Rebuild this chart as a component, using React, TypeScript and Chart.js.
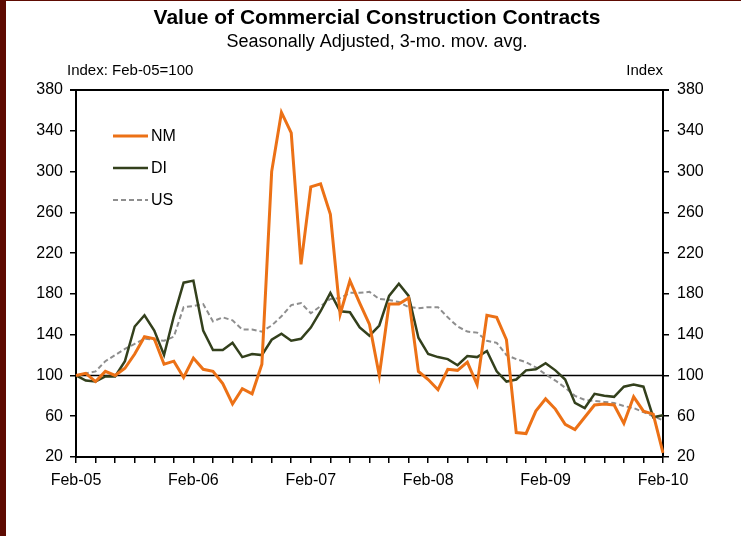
import React, { useEffect, useRef } from "react";
import { Chart, registerables } from "chart.js";

Chart.register(...registerables);

const categories = [
  "Feb-05","Mar-05","Apr-05","May-05","Jun-05","Jul-05","Aug-05","Sep-05","Oct-05","Nov-05","Dec-05","Jan-06",
  "Feb-06","Mar-06","Apr-06","May-06","Jun-06","Jul-06","Aug-06","Sep-06","Oct-06","Nov-06","Dec-06","Jan-07",
  "Feb-07","Mar-07","Apr-07","May-07","Jun-07","Jul-07","Aug-07","Sep-07","Oct-07","Nov-07","Dec-07","Jan-08",
  "Feb-08","Mar-08","Apr-08","May-08","Jun-08","Jul-08","Aug-08","Sep-08","Oct-08","Nov-08","Dec-08","Jan-09",
  "Feb-09","Mar-09","Apr-09","May-09","Jun-09","Jul-09","Aug-09","Sep-09","Oct-09","Nov-09","Dec-09","Jan-10",
  "Feb-10",
];

const nmValues = [
  100, 102, 94, 104, 100, 107, 121, 138, 136, 111, 114, 98,
  117, 106, 104, 92, 72, 87, 82, 111, 300, 358, 338, 209,
  285, 288, 258, 160, 193, 171, 150, 100, 170, 170, 176, 104,
  96, 86, 106, 105, 113, 91, 159, 157, 135, 44, 43, 65,
  77, 67, 52, 47, 59, 71, 72, 71, 53, 79, 65, 62,
  24,
];

const diValues = [
  100, 95, 94, 99, 99, 114, 148, 159, 144, 120, 158, 191,
  193, 144, 125, 125, 132, 118, 121, 120, 135, 141, 134, 136,
  147, 163, 181, 163, 162, 147, 139, 149, 178, 190, 178, 137,
  121, 118, 116, 110, 119, 118, 124, 104, 94, 96, 105, 106,
  112, 105, 96, 73, 68, 82, 80, 79, 89, 91, 89, 59,
  61,
];

const usValues = [
  100, 102, 104, 114, 120, 126, 131, 136, 135, 134, 138, 167,
  168, 170, 153, 157, 154, 145, 145, 143, 149, 158, 169, 171,
  161, 168, 175, 176, 181, 181, 182, 175, 174, 172, 167, 166,
  167, 167, 157, 148, 143, 142, 134, 132, 120, 116, 113, 108,
  101, 95, 88, 80, 76, 75, 74, 73, 70, 68, 64, 60,
  56,
];

const xTickLabels = ["Feb-05", "Feb-06", "Feb-07", "Feb-08", "Feb-09", "Feb-10"];
const yMin = 20;
const yMax = 380;
const yStep = 40;
const baseline = 100;

const seriesNames = ["NM", "DI", "US"];
const COLORS = { NM: "#EC7116", DI: "#33401C", US: "#8E8E8E" };
const FONT = "'Liberation Sans', Arial, Helvetica, sans-serif";

const decorPlugin = {
  id: "decor",
  beforeDraw(chart: any) {
    const ctx = chart.ctx;
    ctx.save();
    ctx.fillStyle = "#ffffff";
    ctx.fillRect(0, 0, chart.width, chart.height);
    ctx.fillStyle = "#5E0B02";
    ctx.fillRect(0, 0, 6, chart.height);
    ctx.fillRect(0, 0, chart.width, 1);
    ctx.restore();
  },
  beforeDatasetsDraw(chart: any) {
    const ctx = chart.ctx;
    const { left, right } = chart.chartArea;
    const y = chart.scales.y.getPixelForValue(baseline);
    ctx.save();
    ctx.strokeStyle = "#000";
    ctx.lineWidth = 1.5;
    ctx.beginPath();
    ctx.moveTo(left, y);
    ctx.lineTo(right, y);
    ctx.stroke();
    ctx.restore();
  },
  afterDraw(chart: any) {
    const ctx = chart.ctx;
    const { left, right, top } = chart.chartArea;
    ctx.save();
    ctx.strokeStyle = "#000";
    ctx.lineWidth = 2;
    ctx.beginPath();
    ctx.moveTo(left - 6, top);
    ctx.lineTo(right + 6, top);
    ctx.stroke();

    ctx.fillStyle = "#000";
    ctx.textAlign = "center";
    ctx.textBaseline = "middle";
    ctx.font = `bold 21px ${FONT}`;
    ctx.fillText("Value of Commercial Construction Contracts", 377, 18);
    ctx.font = `18px ${FONT}`;
    ctx.fillText("Seasonally Adjusted, 3-mo. mov. avg.", 377, 42);
    ctx.font = `15px ${FONT}`;
    ctx.textAlign = "left";
    ctx.fillText("Index: Feb-05=100", 67, 71);
    ctx.textAlign = "right";
    ctx.fillText("Index", 663, 71);

    const legendY = [136, 168, 200];
    const colors = [COLORS.NM, COLORS.DI, COLORS.US];
    const widths = [3, 2.5, 2];
    ctx.font = `16px ${FONT}`;
    ctx.textAlign = "left";
    seriesNames.forEach((name, i) => {
      ctx.strokeStyle = colors[i];
      ctx.lineWidth = widths[i];
      ctx.setLineDash(i === 2 ? [5, 3] : []);
      ctx.beginPath();
      ctx.moveTo(113, legendY[i]);
      ctx.lineTo(148, legendY[i]);
      ctx.stroke();
      ctx.setLineDash([]);
      ctx.fillStyle = "#000";
      ctx.fillText(name, 151, legendY[i] + 1);
    });
    ctx.restore();
  },
};

export default function App() {
  const canvasRef = useRef<HTMLCanvasElement | null>(null);

  useEffect(() => {
    if (!canvasRef.current) return;
    const yAxisCommon = {
      min: yMin,
      max: yMax,
      grid: {
        display: true,
        drawOnChartArea: false,
        drawTicks: true,
        tickLength: 6,
        color: "#000",
        lineWidth: 1.5,
      },
      border: { display: true, color: "#000", width: 2 },
      ticks: {
        stepSize: yStep,
        color: "#000",
        font: { size: 16, family: FONT },
      },
    };
    const chart = new Chart(canvasRef.current, {
      type: "line",
      data: {
        labels: categories,
        datasets: [
          {
            label: seriesNames[0],
            data: nmValues,
            borderColor: COLORS.NM,
            borderWidth: 3,
            pointRadius: 0,
            tension: 0,
            fill: false,
          },
          {
            label: seriesNames[1],
            data: diValues,
            borderColor: COLORS.DI,
            borderWidth: 2.5,
            pointRadius: 0,
            tension: 0,
            fill: false,
          },
          {
            label: seriesNames[2],
            data: usValues,
            borderColor: COLORS.US,
            borderWidth: 2,
            borderDash: [5, 3],
            pointRadius: 0,
            tension: 0,
            fill: false,
          },
        ],
      },
      options: {
        responsive: false,
        animation: false,
        devicePixelRatio: 1,
        layout: { padding: { top: 90, left: 0, right: 0, bottom: 0 } },
        plugins: {
          legend: { display: false },
          title: { display: false },
          tooltip: { enabled: false },
        },
        scales: {
          x: {
            type: "category",
            offset: false,
            grid: {
              display: true,
              drawOnChartArea: false,
              drawTicks: true,
              tickLength: 6,
              color: "#000",
              lineWidth: 1.5,
            },
            border: { display: true, color: "#000", width: 2 },
            ticks: {
              autoSkip: false,
              maxRotation: 0,
              minRotation: 0,
              padding: 8,
              color: "#000",
              font: { size: 16, family: FONT },
              callback: (_v: any, i: number) =>
                i % 12 === 0 ? xTickLabels[i / 12] : i % 2 === 0 ? "" : null,
            },
            afterFit: (s: any) => {
              s.height = 79;
            },
          },
          y: {
            ...yAxisCommon,
            position: "left",
            ticks: { ...yAxisCommon.ticks, padding: 7 },
            afterFit: (s: any) => {
              s.width = 76;
            },
          },
          y2: {
            ...yAxisCommon,
            position: "right",
            ticks: { ...yAxisCommon.ticks, padding: 8 },
            afterFit: (s: any) => {
              s.width = 78;
            },
          },
        },
      } as any,
      plugins: [decorPlugin],
    });
    return () => chart.destroy();
  }, []);

  return (
    <div style={{ position: "absolute", left: 0, top: 0, width: 741, height: 536, background: "#fff" }}>
      <canvas ref={canvasRef} width={741} height={536} style={{ display: "block" }} />
    </div>
  );
}
